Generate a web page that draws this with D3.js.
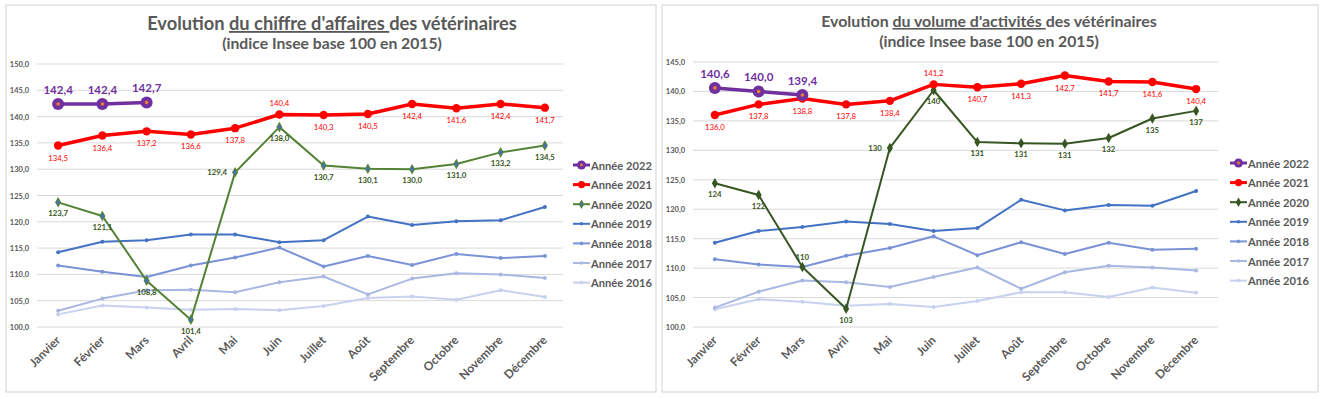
<!DOCTYPE html>
<html>
<head>
<meta charset="utf-8">
<script src="https://cdn.jsdelivr.net/npm/d3@7"></script>
<style>
  body { margin: 0; background: #fff; font-family: Lato, "Open Sans", sans-serif; }
  svg text { font-family: Lato, "Open Sans", sans-serif; }
</style>
</head>
<body>
<svg id="chart" width="1323" height="399"></svg>
<script>
// months (x categories)
const months = ["Janvier", "Février", "Mars", "Avril", "Mai", "Juin", "Juillet", "Août",
  "Septembre", "Octobre", "Novembre", "Décembre"];
const years = ["Année 2022", "Année 2021", "Année 2020", "Année 2019", "Année 2018", "Année 2017", "Année 2016"];

// chiffre d'affaires
const ca2022 = [142.4, 142.4, 142.7];
const ca2021 = [134.5, 136.4, 137.2, 136.6, 137.8, 140.4, 140.3, 140.5, 142.4, 141.6, 142.4, 141.7];
const ca2020 = [123.7, 121.1, 108.8, 101.4, 129.4, 138.0, 130.7, 130.1, 130.0, 131.0, 133.2, 134.5];
const ca2019 = [114.2, 116.2, 116.5, 117.6, 117.6, 116.1, 116.5, 121.0, 119.4, 120.1, 120.3, 122.8];
const ca2018 = [111.7, 110.5, 109.5, 111.7, 113.2, 115.1, 111.5, 113.5, 111.8, 113.9, 113.1, 113.5];
const ca2017 = [103.1, 105.4, 107.0, 107.1, 106.6, 108.5, 109.6, 106.2, 109.2, 110.2, 110.0, 109.3];
const ca2016 = [102.4, 104.1, 103.7, 103.3, 103.4, 103.2, 104.0, 105.5, 105.8, 105.2, 107.0, 105.7];

// volume d'activites
const vol2022 = [140.6, 140.0, 139.4];
const vol2021 = [136.0, 137.8, 138.8, 137.8, 138.4, 141.2, 140.7, 141.3, 142.7, 141.7, 141.6, 140.4];
const vol2020 = [124.4, 122.4, 110.2, 103.1, 130.4, 140.2, 131.4, 131.2, 131.1, 132.1, 135.4, 136.7];
const vol2019 = [114.3, 116.3, 117.0, 117.9, 117.5, 116.3, 116.8, 121.6, 119.8, 120.7, 120.6, 123.1];
const vol2018 = [111.5, 110.6, 110.2, 112.1, 113.4, 115.4, 112.2, 114.4, 112.4, 114.3, 113.1, 113.3];
const vol2017 = [103.3, 106.0, 107.9, 107.6, 106.8, 108.5, 110.1, 106.5, 109.3, 110.4, 110.1, 109.6];
const vol2016 = [103.0, 104.7, 104.3, 103.6, 103.9, 103.4, 104.4, 105.9, 105.9, 105.1, 106.7, 105.8];

const caTicks = [100, 105, 110, 115, 120, 125, 130, 135, 140, 145, 150];
const volTicks = [100, 105, 110, 115, 120, 125, 130, 135, 140, 145];

const svg = d3.select("#chart");
const fr1 = v => d3.format(".1f")(v).replace(".", ",");
const fr0 = v => d3.format(".0f")(v);

// shrink/grow a text to a wanted width (Calibri is not installed)
function fitWidth(sel, w) {
  const len = sel.node().getComputedTextLength();
  const fs = parseFloat(sel.attr("font-size"));
  sel.attr("font-size", fs * w / len);
}
function fitSize(str, fs, w) {
  const tmp = svg.append("text").attr("font-size", fs).attr("font-weight", 700).text(str);
  const len = tmp.node().getComputedTextLength();
  tmp.remove();
  return fs * w / len;
}

const monthSize = fitSize("Septembre", 12, 58);
const legendSize = fitSize("Année 2022", 12, 61);

function drawChart(cfg) {
  const g = svg.append("g");

  // card
  g.append("rect")
    .attr("x", cfg.box[0]).attr("y", cfg.box[1])
    .attr("width", cfg.box[2]).attr("height", cfg.box[3])
    .attr("fill", "#fff").attr("stroke", "#d9d9d9").attr("stroke-width", 1.2);

  // title
  const t = g.append("text")
    .attr("x", cfg.titleX).attr("y", cfg.titleY)
    .attr("text-anchor", "middle")
    .attr("font-size", 17).attr("font-weight", 700).attr("fill", "#595959");
  t.append("tspan").text("Evolution ");
  t.append("tspan").attr("text-decoration", "underline").text(cfg.underlined + " ");
  t.append("tspan").text("des vétérinaires");
  fitWidth(t, cfg.titleW);
  const st = g.append("text")
    .attr("x", cfg.titleX).attr("y", cfg.subY)
    .attr("text-anchor", "middle")
    .attr("font-size", 15).attr("font-weight", 700).attr("fill", "#595959")
    .text("(indice Insee base 100 en 2015)");
  fitWidth(st, 220);

  const x = d3.scaleBand().domain(months).range(cfg.xRange);
  const y = d3.scaleLinear().domain(cfg.yDomain).range(cfg.yRange);
  const cx = m => x(m) + x.bandwidth() / 2;

  // gridlines + y labels
  g.append("g").selectAll("line")
    .data(cfg.ticks)
    .join("line")
    .attr("x1", cfg.gridX[0]).attr("x2", cfg.gridX[1])
    .attr("y1", d => y(d)).attr("y2", d => y(d))
    .attr("stroke", "#d9d9d9").attr("stroke-width", 1);

  g.append("g").selectAll("text")
    .data(cfg.ticks)
    .join("text")
    .attr("x", cfg.gridX[0] - 8).attr("y", d => y(d) + 3)
    .attr("text-anchor", "end")
    .attr("font-size", 7.5).attr("font-weight", 700).attr("fill", "#595959")
    .text(fr1);

  // month labels
  g.append("g").selectAll("text")
    .data(months)
    .join("text")
    .attr("transform", d => `translate(${cx(d) + 3},${y(cfg.yDomain[0]) + 14}) rotate(-45)`)
    .attr("text-anchor", "end")
    .attr("font-size", monthSize).attr("font-weight", 700).attr("fill", "#595959")
    .text(d => d);

  const line = d3.line().x((d, i) => cx(months[i])).y(d => y(d));

  // draw from oldest to newest so 2022 is on top
  cfg.series.slice().reverse().forEach(s => {
    g.append("path")
      .datum(s.values)
      .attr("fill", "none")
      .attr("stroke", s.color)
      .attr("stroke-width", s.width)
      .attr("stroke-linejoin", "round")
      .attr("d", line);

    const pts = g.append("g").selectAll("g")
      .data(s.values)
      .join("g")
      .attr("transform", (d, i) => `translate(${cx(months[i])},${y(d)})`);

    if (s.marker === "big") {
      pts.append("circle").attr("r", 6).attr("fill", s.color);
      pts.append("circle").attr("r", 1.8).attr("fill", "#ED7D31");
    } else if (s.marker === "circle") {
      pts.append("circle").attr("r", 4.2).attr("fill", s.color);
    } else if (s.marker === "diamond") {
      pts.append("path").attr("d", d3.symbol(d3.symbolDiamond, 32)).attr("fill", s.color);
      pts.append("path").attr("d", d3.symbol(d3.symbolDiamond, 10)).attr("fill", s.inner || s.color);
    } else {
      pts.append("circle").attr("r", 2).attr("fill", s.color);
    }

    if (s.labels) {
      const pos = s.labelPos || [];
      g.append("g").selectAll("text")
        .data(s.values)
        .join("text")
        .attr("x", (d, i) => cx(months[i]) + (pos[i] === "left" ? -8 : 0))
        .attr("y", (d, i) => {
          const p = pos[i] || s.labelDefault;
          if (p === "above") return y(d) - s.labelGap;
          if (p === "left") return y(d) + 3;
          return y(d) + s.labelGap + 7;
        })
        .attr("text-anchor", (d, i) => pos[i] === "left" ? "end" : "middle")
        .attr("font-size", s.labelSize)
        .attr("font-weight", s.labelWeight || 400)
        .attr("fill", s.labelColor || s.color)
        .text(s.fmt);
    }
  });

  // legend
  const leg = g.append("g").selectAll("g")
    .data(cfg.series)
    .join("g")
    .attr("transform", (d, i) => `translate(${cfg.legendX},${cfg.legendY + i * 19.6})`);
  leg.append("line")
    .attr("x1", 0).attr("x2", 17)
    .attr("stroke", d => d.color)
    .attr("stroke-width", d => Math.min(d.width, 3));
  leg.each(function(s) {
    const l = d3.select(this).append("g").attr("transform", "translate(8.5,0)");
    if (s.marker === "big") {
      l.append("circle").attr("r", 4.5).attr("fill", s.color);
      l.append("circle").attr("r", 1.4).attr("fill", "#ED7D31");
    } else if (s.marker === "circle") {
      l.append("circle").attr("r", 3.6).attr("fill", s.color);
    } else if (s.marker === "diamond") {
      l.append("path").attr("d", d3.symbol(d3.symbolDiamond, 26)).attr("fill", s.color);
      l.append("path").attr("d", d3.symbol(d3.symbolDiamond, 8)).attr("fill", s.inner || s.color);
    } else {
      l.append("circle").attr("r", 1.8).attr("fill", s.color);
    }
  });
  leg.append("text")
    .attr("x", 18).attr("y", 4.5)
    .attr("font-size", legendSize).attr("font-weight", 700).attr("fill", "#595959")
    .text(d => d.name);
}

function makeSeries(v, green, greenInner, fmt2020, pos2020) {
  return [
    {name: years[0], values: v[0], color: "#7030A0", width: 3.5, marker: "big",
      labels: true, labelDefault: "above", labelGap: 10, labelSize: 11.5, labelWeight: 700, fmt: fr1},
    {name: years[1], values: v[1], color: "#FF0000", width: 3.5, marker: "circle",
      labels: true, labelDefault: "below", labelGap: 8, labelSize: 7.8, fmt: fr1,
      labelPos: [, , , , , "above"]},
    {name: years[2], values: v[2], color: green, inner: greenInner, width: 2, marker: "diamond",
      labels: true, labelDefault: "below", labelGap: 7, labelSize: 7.8, labelWeight: 700,
      labelColor: "#375623", fmt: fmt2020, labelPos: pos2020},
    {name: years[3], values: v[3], color: "#4472C4", width: 2, marker: "dot"},
    {name: years[4], values: v[4], color: "#7A93D6", width: 2, marker: "dot"},
    {name: years[5], values: v[5], color: "#A9B8E3", width: 2, marker: "dot"},
    {name: years[6], values: v[6], color: "#C8D1EE", width: 2, marker: "dot"}
  ];
}

drawChart({
  box: [6, 5, 650, 387],
  titleX: 332, titleY: 30, titleW: 370, subY: 49,
  underlined: "du chiffre d'affaires",
  xRange: [36, 567], gridX: [37, 563],
  yDomain: [100, 150], yRange: [327, 64],
  ticks: caTicks,
  legendX: 573, legendY: 165,
  series: makeSeries([ca2022, ca2021, ca2020, ca2019, ca2018, ca2017, ca2016],
    "#548235", "#4472C4", fr1, [, , , , "left"])
});

drawChart({
  box: [662, 5, 656, 387],
  titleX: 989, titleY: 27, titleW: 336, subY: 47,
  underlined: "du volume d'activités",
  xRange: [693, 1218], gridX: [693, 1218],
  yDomain: [100, 145], yRange: [327, 62],
  ticks: volTicks,
  legendX: 1230, legendY: 163,
  series: makeSeries([vol2022, vol2021, vol2020, vol2019, vol2018, vol2017, vol2016],
    "#375623", "#375623", fr0, [, , "above", , "left"])
});
</script>
</body>
</html>
